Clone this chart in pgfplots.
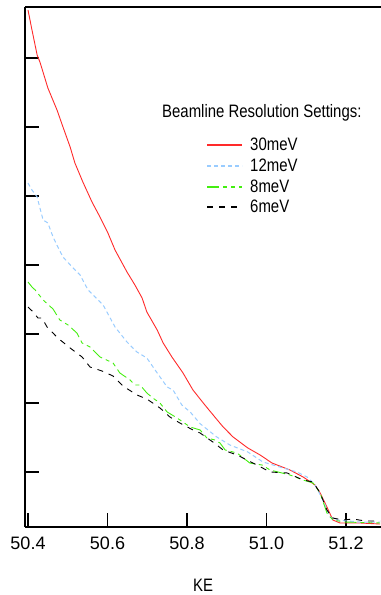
\documentclass[border=0pt]{standalone}
\usepackage{pgfplots}
\pgfplotsset{compat=1.18}
\usepackage{fontspec}
\setmainfont{Liberation Sans}
\newfontfamily\narrow[FakeStretch=0.83]{Liberation Sans}
\definecolor{cred}{HTML}{FF2A2A}
\definecolor{cblue}{HTML}{99CCFF}
\definecolor{cgreen}{HTML}{44EE11}
\tikzset{
  sred/.style={cred, line width=0.9bp},
  sblue/.style={cblue, line width=1bp, dash pattern=on 4bp off 3bp},
  sgreen/.style={cgreen, line width=0.9bp, dash pattern=on 12bp off 4bp on 4bp off 4bp on 4bp off 4bp},
  sblack/.style={black, line width=0.9bp, dash pattern=on 6bp off 6bp},
}
\begin{document}
\begin{tikzpicture}
\useasboundingbox (0,0) rectangle (381bp,595bp);
\begin{axis}[
  at={(25bp,68bp)}, anchor=south west,
  scale only axis, width=356bp, height=520bp,
  xmin=50.39245, xmax=51.28805, ymin=0.2029, ymax=7.739,
  axis x line*=box, axis y line*=left,
  axis line style={-, line width=1.6bp},
  xtick pos=bottom, ytick pos=left,
  tick align=inside, major tick length=14bp,
  tick style={line width=1.6bp, black},
  xtick={50.4,50.6,50.8,51.0,51.2},
  xticklabels={50.4,50.6,50.8,51.0,51.2},
  ytick={1,2,3,4,5,6,7}, yticklabels={},
  /pgf/number format/assume math mode=true,
  ticklabel style={font=\fontsize{18bp}{20bp}\selectfont},
  xticklabel style={yshift=-6bp},
  xlabel={\narrow KE},
  xlabel style={font=\fontsize{18bp}{20bp}\selectfont, at={(axis description cs:0.5,-0.1115)}, anchor=center, inner sep=0},
  clip=true,
]
\addplot[sred] coordinates {
(50.400,7.696)(50.410,7.406)(50.423,7.043)(50.430,6.942)(50.440,6.754)(50.450,6.565)
(50.473,6.246)(50.488,6.000)(50.506,5.710)(50.518,5.478)(50.538,5.203)(50.561,4.913)
(50.581,4.696)(50.601,4.464)(50.619,4.217)(50.649,3.899)(50.669,3.710)(50.687,3.522)
(50.699,3.319)(50.725,3.058)(50.740,2.870)(50.762,2.667)(50.790,2.435)(50.815,2.188)
(50.845,1.971)(50.870,1.797)(50.891,1.652)(50.916,1.507)(50.953,1.348)(50.984,1.246)
(51.014,1.130)(51.059,1.029)(51.092,0.928)(51.122,0.812)(51.135,0.696)(51.152,0.493)
(51.167,0.304)(51.185,0.261)(51.235,0.261)(51.286,0.246)
};
\addplot[sblue] coordinates {
(50.400,5.188)(50.410,5.087)(50.423,4.986)(50.430,4.826)(50.438,4.652)(50.450,4.609)
(50.463,4.406)(50.475,4.261)(50.488,4.116)(50.511,3.971)(50.531,3.855)(50.551,3.638)
(50.574,3.507)(50.589,3.420)(50.619,3.101)(50.649,2.884)(50.674,2.739)(50.699,2.652)
(50.725,2.435)(50.750,2.232)(50.765,2.188)(50.787,1.971)(50.808,1.870)(50.833,1.700)
(50.875,1.507)(50.908,1.391)(50.953,1.290)(50.991,1.145)(51.034,1.072)(51.077,1.000)
(51.102,0.928)(51.122,0.812)(51.142,0.594)(51.160,0.348)(51.177,0.304)(51.235,0.275)
(51.286,0.275)
};
\addplot[sgreen] coordinates {
(50.400,3.754)(50.410,3.681)(50.418,3.638)(50.438,3.493)(50.463,3.362)(50.480,3.203)
(50.501,3.130)(50.523,3.014)(50.536,2.870)(50.556,2.812)(50.581,2.667)(50.614,2.580)
(50.631,2.435)(50.657,2.333)(50.669,2.261)(50.682,2.261)(50.699,2.145)(50.714,2.072)
(50.732,2.000)(50.750,1.870)(50.775,1.783)(50.808,1.652)(50.833,1.609)(50.850,1.493)
(50.870,1.464)(50.883,1.420)(50.896,1.319)(50.926,1.275)(50.958,1.130)(50.989,1.101)
(51.009,1.029)(51.059,0.957)(51.092,0.884)(51.117,0.841)(51.135,0.696)(51.152,0.406)
(51.167,0.304)(51.197,0.275)(51.286,0.261)
};
\addplot[sblack] coordinates {
(50.400,3.391)(50.413,3.319)(50.425,3.232)(50.435,3.232)(50.448,3.101)(50.475,2.942)
(50.506,2.797)(50.536,2.667)(50.556,2.522)(50.586,2.464)(50.614,2.391)(50.639,2.246)
(50.674,2.116)(50.699,2.058)(50.732,1.928)(50.757,1.797)(50.782,1.710)(50.815,1.609)
(50.833,1.565)(50.865,1.435)(50.891,1.319)(50.926,1.246)(50.976,1.101)(51.009,1.000)
(51.052,0.986)(51.092,0.884)(51.117,0.855)(51.135,0.696)(51.152,0.449)(51.167,0.333)
(51.192,0.304)(51.218,0.319)(51.248,0.290)(51.286,0.290)
};
\end{axis}
% legend
\node[anchor=base west, inner sep=0, font=\fontsize{18bp}{20bp}\selectfont\narrow] at (162bp,477bp) {Beamline Resolution Settings:};
\draw[sred, line width=1.5bp]   (207bp,450bp) -- (242bp,450bp);
\draw[sblue, line width=1.5bp]  (207bp,429bp) -- (242bp,429bp);
\draw[sgreen, line width=1.5bp] (207bp,408bp) -- (242bp,408bp);
\draw[sblack, line width=1.5bp] (207bp,388bp) -- (242bp,388bp);
\node[anchor=base west, inner sep=0, font=\fontsize{18bp}{20bp}\selectfont\narrow] at (250bp,444bp) {30meV};
\node[anchor=base west, inner sep=0, font=\fontsize{18bp}{20bp}\selectfont\narrow] at (250bp,423bp) {12meV};
\node[anchor=base west, inner sep=0, font=\fontsize{18bp}{20bp}\selectfont\narrow] at (250bp,402bp) {8meV};
\node[anchor=base west, inner sep=0, font=\fontsize{18bp}{20bp}\selectfont\narrow] at (250bp,382bp) {6meV};
\end{tikzpicture}
\end{document}
